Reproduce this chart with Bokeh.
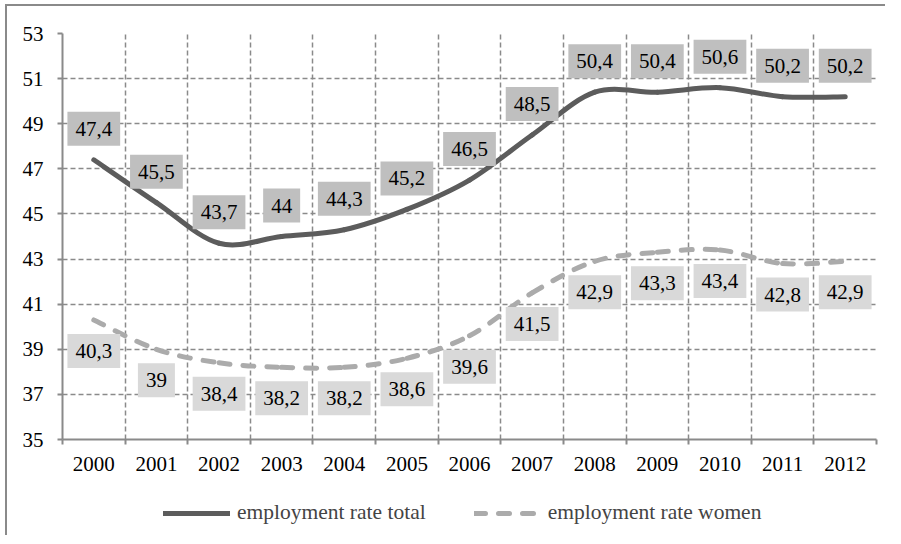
from bokeh.plotting import figure
from bokeh.layouts import column
from bokeh.models import FixedTicker, Range1d, Legend, LegendItem, ColumnDataSource
from bokeh.core.properties import value
from bokeh.embed import file_html
from bokeh.resources import INLINE

years = ["2000", "2001", "2002", "2003", "2004", "2005", "2006",
         "2007", "2008", "2009", "2010", "2011", "2012"]
total = [47.4, 45.5, 43.7, 44.0, 44.3, 45.2, 46.5, 48.5, 50.4, 50.4, 50.6, 50.2, 50.2]
women = [40.3, 39.0, 38.4, 38.2, 38.2, 38.6, 39.6, 41.5, 42.9, 43.3, 43.4, 42.8, 42.9]
y_ticks = [35, 37, 39, 41, 43, 45, 47, 49, 51, 53]
series_names = ["employment rate total", "employment rate women"]

FONT = "Liberation Serif"
GRID = "#8a8a8a"
TOTAL_C = "#5c5c5c"
WOMEN_C = "#ababab"
DASH = "11 13"

xs = list(range(len(years)))


def bezier_source(xv, yv):
    n = len(xv)
    d = dict(x0=[], y0=[], x1=[], y1=[], cx0=[], cy0=[], cx1=[], cy1=[])
    for i in range(n - 1):
        pm = i - 1 if i > 0 else i
        pp = i + 2 if i + 2 < n else i + 1
        d["x0"].append(xv[i]); d["y0"].append(yv[i])
        d["x1"].append(xv[i + 1]); d["y1"].append(yv[i + 1])
        d["cx0"].append(xv[i] + (xv[i + 1] - xv[pm]) / 6)
        d["cy0"].append(yv[i] + (yv[i + 1] - yv[pm]) / 6)
        d["cx1"].append(xv[i + 1] - (xv[pp] - xv[i]) / 6)
        d["cy1"].append(yv[i + 1] - (yv[pp] - yv[i]) / 6)
    return ColumnDataSource(d)


def fmt(v):
    return f"{v:g}".replace(".", ",")


p = figure(frame_width=814, frame_height=406,
           x_range=Range1d(-0.5, len(years) - 0.5), y_range=Range1d(35, 53),
           output_backend="svg", toolbar_location=None,
           min_border_left=62, min_border_right=9, min_border_top=33, min_border_bottom=56)
p.outline_line_color = None
p.background_fill_color = "white"
p.border_fill_color = None

# x axis
p.xaxis.ticker = FixedTicker(ticks=xs, minor_ticks=[i - 0.5 for i in range(len(years) + 1)])
p.xaxis.major_label_overrides = {i: y for i, y in enumerate(years)}
p.xaxis.major_tick_line_color = None
p.xaxis.major_tick_out = 0
p.xaxis.major_tick_in = 0
p.xaxis.minor_tick_line_color = GRID
p.xaxis.minor_tick_line_width = 2
p.xaxis.minor_tick_out = 5
p.xaxis.minor_tick_in = 0
p.xaxis.axis_line_color = GRID
p.xaxis.axis_line_width = 2
p.xaxis.major_label_standoff = 12

# y axis
p.yaxis.ticker = FixedTicker(ticks=y_ticks)
p.yaxis.minor_tick_line_color = None
p.yaxis.major_tick_line_color = GRID
p.yaxis.major_tick_line_width = 2
p.yaxis.major_tick_out = 5
p.yaxis.major_tick_in = 0
p.yaxis.axis_line_color = GRID
p.yaxis.axis_line_width = 2
p.yaxis.major_label_standoff = 14

for ax in (p.xaxis, p.yaxis):
    ax.major_label_text_font = FONT
    ax.major_label_text_font_size = "21px"
    ax.major_label_text_color = "black"

p.xgrid.grid_line_color = None
p.xgrid.minor_grid_line_color = GRID
p.xgrid.minor_grid_line_dash = "5 3"
p.xgrid.minor_grid_line_width = 1.5
p.ygrid.grid_line_color = GRID
p.ygrid.grid_line_dash = "5 3"
p.ygrid.grid_line_width = 1.5

# smooth lines
p.bezier(x0="x0", y0="y0", x1="x1", y1="y1", cx0="cx0", cy0="cy0", cx1="cx1", cy1="cy1",
         source=bezier_source(xs, total), line_color=TOTAL_C, line_width=5, line_cap="round")
p.bezier(x0="x0", y0="y0", x1="x1", y1="y1", cx0="cx0", cy0="cy0", cx1="cx1", cy1="cy1",
         source=bezier_source(xs, women), line_color=WOMEN_C, line_width=5, line_cap="round",
         line_dash=DASH)

# data labels
pad = dict(left=8, right=8, top=10, bottom=10)
p.text(x=xs, y=total, text=[fmt(v) for v in total], y_offset=-31,
       text_align="center", text_baseline="middle", text_font=value(FONT),
       text_font_size="21px", text_color="black",
       background_fill_color="#bfbfbf", padding=pad)
p.text(x=xs, y=women, text=[fmt(v) for v in women], y_offset=31,
       text_align="center", text_baseline="middle", text_font=value(FONT),
       text_font_size="21px", text_color="black",
       background_fill_color="#d9d9d9", padding=pad)

# legend strip below the chart (its frame is aligned with the chart's frame)
p2 = figure(width=885, height=40, x_range=Range1d(100, 101), y_range=Range1d(100, 101),
            x_axis_type=None, y_axis_type=None, output_backend="svg", toolbar_location=None,
            min_border=0)
p2.outline_line_color = None
p2.background_fill_color = None
p2.border_fill_color = None
p2.grid.visible = False
r1 = p2.line(x=xs, y=total, line_color=TOTAL_C, line_width=5, line_cap="round")
r2 = p2.line(x=xs, y=women, line_color=WOMEN_C, line_width=5, line_cap="round", line_dash=DASH)
legend = Legend(items=[LegendItem(label=series_names[0], renderers=[r1]),
                       LegendItem(label=series_names[1], renderers=[r2])],
                location=(101, 10), orientation="horizontal",
                glyph_width=67, label_standoff=7, spacing=48, padding=0, margin=0,
                border_line_color=None, background_fill_alpha=0,
                label_text_font=FONT, label_text_font_size="21.5px")
p2.add_layout(legend)

layout = column(p, p2, spacing=0, styles={
    "background": "linear-gradient(#8a8a8a, #8a8a8a) 5px 4px / 2px 100% no-repeat, "
                  "linear-gradient(#8a8a8a, #8a8a8a) 5px 4px / 100% 2px no-repeat, #ffffff"})

open("out.html", "w").write(file_html(layout, INLINE))
